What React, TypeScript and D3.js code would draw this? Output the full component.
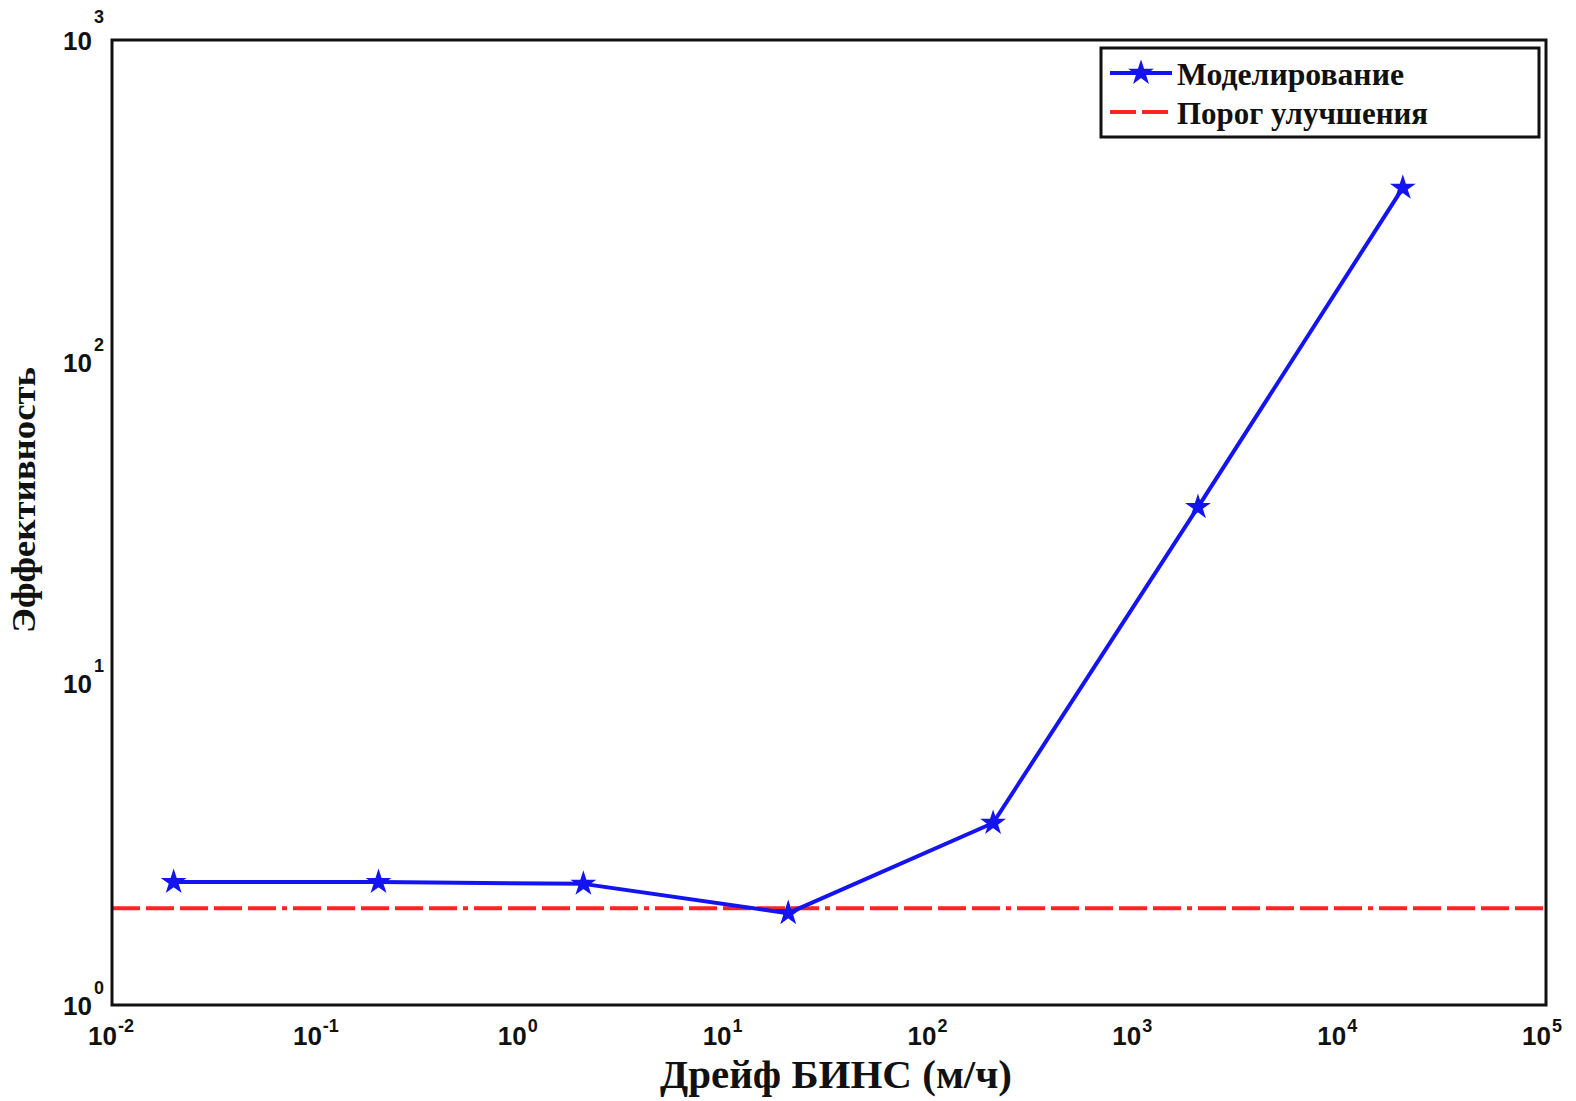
import React, { useEffect, useRef } from 'react';
import * as d3 from 'd3';

// values (log-log axes)
const drift = [0.02, 0.2, 2, 20, 200, 2000, 20000];
const efficiency = [2.41, 2.41, 2.38, 1.93, 3.68, 35.3, 347];
const threshold = 2;
const xTickExps = [-2, -1, 0, 1, 2, 3, 4, 5];
const yTickExps = [0, 1, 2, 3];
const seriesNames = ['Моделирование', 'Порог улучшения'];
const xTitle = 'Дрейф БИНС (м/ч)';
const yTitle = 'Эффективность';

const W = 1576;
const H = 1101;
const margin = { top: 40, right: 30, bottom: 96, left: 112 };

const tickFont = '"Liberation Sans", Arial, sans-serif';
const titleFont = '"Liberation Serif", "Times New Roman", serif';
const blue = '#1414f0';
const red = '#ff2424';

const App = () => {
    const ref = useRef<SVGSVGElement>(null);

    useEffect(() => {
        document.body.style.margin = '0';
        const svg = d3.select(ref.current);
        svg.selectAll('*').remove();

        const x = d3
            .scaleLog()
            .domain([1e-2, 1e5])
            .range([margin.left, W - margin.right]);
        const y = d3
            .scaleLog()
            .domain([1, 1e3])
            .range([H - margin.bottom, margin.top]);

        svg.append('rect').attr('width', W).attr('height', H).attr('fill', 'white');

        // threshold line (mostly dashes, an occasional dot)
        svg.append('line')
            .attr('x1', x(1e-2))
            .attr('x2', x(1e5))
            .attr('y1', y(threshold))
            .attr('y2', y(threshold))
            .attr('stroke', red)
            .attr('stroke-width', 4)
            .attr('stroke-dasharray', '28,6,28,6,28,6,28,6,28,6,5,6');

        // simulation curve
        const pts = drift.map((d, i) => [x(d), y(efficiency[i])] as [number, number]);
        svg.append('path')
            .attr('d', d3.line()(pts))
            .attr('fill', 'none')
            .attr('stroke', blue)
            .attr('stroke-width', 4)
            .attr('stroke-linejoin', 'round');

        const star = d3.symbol().type(d3.symbolStar).size(140);
        svg.selectAll('path.star')
            .data(pts)
            .enter()
            .append('path')
            .attr('class', 'star')
            .attr('d', star)
            .attr('transform', d => `translate(${d[0]},${d[1]})`)
            .attr('fill', blue)
            .attr('stroke', blue)
            .attr('stroke-width', 1.5);

        // axes box
        svg.append('rect')
            .attr('x', x(1e-2))
            .attr('y', y(1e3))
            .attr('width', x(1e5) - x(1e-2))
            .attr('height', y(1) - y(1e3))
            .attr('fill', 'none')
            .attr('stroke', '#111')
            .attr('stroke-width', 3);

        // x tick labels
        const xt = svg.append('g').attr('font-family', tickFont).attr('font-weight', 'bold').attr('fill', '#111');
        xTickExps.forEach(e => {
            const px = x(Math.pow(10, e));
            xt.append('text')
                .attr('x', px + 5)
                .attr('y', 1045)
                .attr('text-anchor', 'end')
                .attr('font-size', 26)
                .text('10');
            xt.append('text')
                .attr('x', px + 6)
                .attr('y', 1032)
                .attr('font-size', 18)
                .text(String(e));
        });

        // y tick labels
        const yt = svg.append('g').attr('font-family', tickFont).attr('font-weight', 'bold').attr('fill', '#111');
        yTickExps.forEach(e => {
            const py = y(Math.pow(10, e));
            yt.append('text')
                .attr('x', 92)
                .attr('y', py + 10)
                .attr('text-anchor', 'end')
                .attr('font-size', 26)
                .text('10');
            yt.append('text')
                .attr('x', 94)
                .attr('y', py - (e === 3 ? 17 : 11))
                .attr('font-size', 18)
                .text(String(e));
        });

        // axis titles
        svg.append('text')
            .attr('x', 836)
            .attr('y', 1088)
            .attr('text-anchor', 'middle')
            .attr('font-family', titleFont)
            .attr('font-weight', 'bold')
            .attr('font-size', 39)
            .attr('textLength', 352)
            .attr('lengthAdjust', 'spacingAndGlyphs')
            .attr('fill', '#111')
            .text(xTitle);

        svg.append('text')
            .attr('transform', 'translate(35,500) rotate(-90)')
            .attr('text-anchor', 'middle')
            .attr('font-family', titleFont)
            .attr('font-weight', 'bold')
            .attr('font-size', 34)
            .attr('textLength', 266)
            .attr('lengthAdjust', 'spacingAndGlyphs')
            .attr('fill', '#111')
            .text(yTitle);

        // legend
        const lg = svg.append('g');
        lg.append('rect')
            .attr('x', 1101)
            .attr('y', 48)
            .attr('width', 438)
            .attr('height', 89)
            .attr('fill', 'white')
            .attr('stroke', '#111')
            .attr('stroke-width', 3);

        const rows = [
            { name: seriesNames[0], cy: 73, color: blue, dash: null, marker: true, len: 227 },
            { name: seriesNames[1], cy: 112, color: red, dash: '26,6', marker: false, len: 251 },
        ];
        rows.forEach(r => {
            lg.append('line')
                .attr('x1', 1110)
                .attr('x2', 1172)
                .attr('y1', r.cy)
                .attr('y2', r.cy)
                .attr('stroke', r.color)
                .attr('stroke-width', 4)
                .attr('stroke-dasharray', r.dash);
            if (r.marker) {
                lg.append('path')
                    .attr('d', star)
                    .attr('transform', `translate(1141,${r.cy})`)
                    .attr('fill', blue)
                    .attr('stroke', blue)
                    .attr('stroke-width', 1.5);
            }
            lg.append('text')
                .attr('x', 1177)
                .attr('y', r.cy + 12)
                .attr('font-family', titleFont)
                .attr('font-weight', 'bold')
                .attr('font-size', 31)
                .attr('textLength', r.len)
                .attr('lengthAdjust', 'spacingAndGlyphs')
                .attr('fill', '#111')
                .text(r.name);
        });
    }, []);

    return <svg ref={ref} width={W} height={H} style={{ display: 'block' }} />;
};

export default App;
